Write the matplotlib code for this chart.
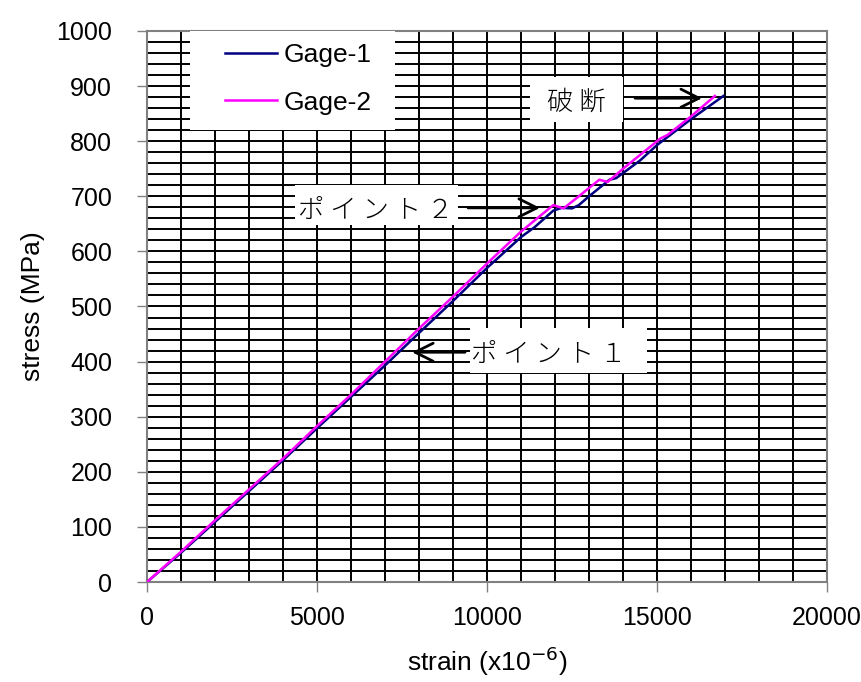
import numpy as np
import matplotlib.pyplot as plt
from matplotlib.ticker import MultipleLocator
from matplotlib.patches import Rectangle

# strain (x10^-6) and stress (MPa)
gage1_strain = [0, 1000, 2000, 3000, 4000, 5000, 6000, 7000, 8000, 9000, 10000,
                11000, 11400, 11950, 12200, 12500, 12700, 13000, 13600, 13800,
                14500, 15000, 16000, 16950]
gage1_stress = [0, 53, 109, 165, 221, 279, 336, 393, 452, 510, 570,
                626, 644, 674, 679, 678, 684, 700, 730, 733,
                765, 793, 840, 882]

gage2_strain = [0, 1000, 2000, 3000, 4000, 5000, 6000, 7000, 7300, 8000, 9000,
                10000, 11000, 11950, 12250, 12700, 13300, 13550, 14000, 14500,
                15100, 15300, 16000, 16700]
gage2_stress = [0, 55, 112, 168, 224, 283, 340, 400, 418, 460, 518,
                578, 636, 684, 678, 700, 730, 726, 750, 775,
                805, 811, 845, 882]

labels = ['Gage-1', 'Gage-2']
colors = ['#000080', '#FF00FF']

plt.rcParams['font.family'] = ['Liberation Sans', 'DejaVu Sans']
jp = ['Noto Sans CJK JP', 'DejaVu Sans']

fig = plt.figure(figsize=(8.62, 6.82), dpi=100)
ax = fig.add_axes([0.1705, 0.1466, 0.789, 0.808])

ax.plot(gage1_strain, gage1_stress, color=colors[0], lw=1.8, label=labels[0], zorder=3)
ax.plot(gage2_strain, gage2_stress, color=colors[1], lw=1.8, label=labels[1], zorder=3)

ax.set_xlim(0, 20000)
ax.set_ylim(0, 1000)
ax.xaxis.set_major_locator(MultipleLocator(5000))
ax.yaxis.set_major_locator(MultipleLocator(100))
ax.xaxis.set_minor_locator(MultipleLocator(1000))
ax.yaxis.set_minor_locator(MultipleLocator(20))
ax.grid(which='both', color='black', lw=1.4)
ax.set_axisbelow(True)
ax.tick_params(which='major', direction='out', length=7, width=1, color='#808080',
               labelsize=18)
ax.tick_params(axis='x', pad=10)
ax.tick_params(axis='y', pad=18)
ax.tick_params(which='minor', length=0)
for s in ax.spines.values():
    s.set_color('#808080')
    s.set_linewidth(1.5)

ax.set_xlabel('strain (x10$^{-6}$)', fontsize=19, labelpad=11)
ax.set_ylabel('stress (MPa)', fontsize=19, labelpad=8)

# legend: white box without border
ax.add_patch(Rectangle((0.063, 0.82), 0.302, 0.18, transform=ax.transAxes,
                       facecolor='white', edgecolor='none', zorder=4))
leg = ax.legend(loc='upper left', bbox_to_anchor=(0.098, 1.0), fontsize=19,
                frameon=False, borderpad=0.45, labelspacing=0.9,
                handlelength=1.95, handletextpad=0.25, borderaxespad=0)
leg.set_zorder(5)

# annotation boxes (data units)
for (x0, y0, w, h) in [(4353, 648, 4794, 72), (9500, 379, 5206, 82),
                       (11265, 835, 2735, 81)]:
    ax.add_patch(Rectangle((x0, y0), w, h, facecolor='white', edgecolor='none',
                           zorder=5))

arrow = dict(arrowstyle='->,head_length=1.3,head_width=0.65', color='black',
             lw=2, shrinkA=0, shrinkB=0)

ax.annotate('', xy=(11559, 679), xytext=(9441, 679), arrowprops=arrow, zorder=6)
ax.text(4441, 676, 'ポ イ ン ト ２', family=jp, fontsize=19, fontweight='light',
        va='center', zorder=6)

ax.annotate('', xy=(7794, 417), xytext=(9353, 417), arrowprops=arrow, zorder=6)
ax.text(9540, 414, 'ポ イ ン ト １', family=jp, fontsize=19, fontweight='light',
        va='center', zorder=6)

ax.annotate('', xy=(16324, 878), xytext=(14353, 878), arrowprops=arrow, zorder=6)
ax.text(11765, 872, '破 断', family=jp, fontsize=19, fontweight='light',
        va='center', zorder=6)

plt.savefig('out.png', dpi=100)
